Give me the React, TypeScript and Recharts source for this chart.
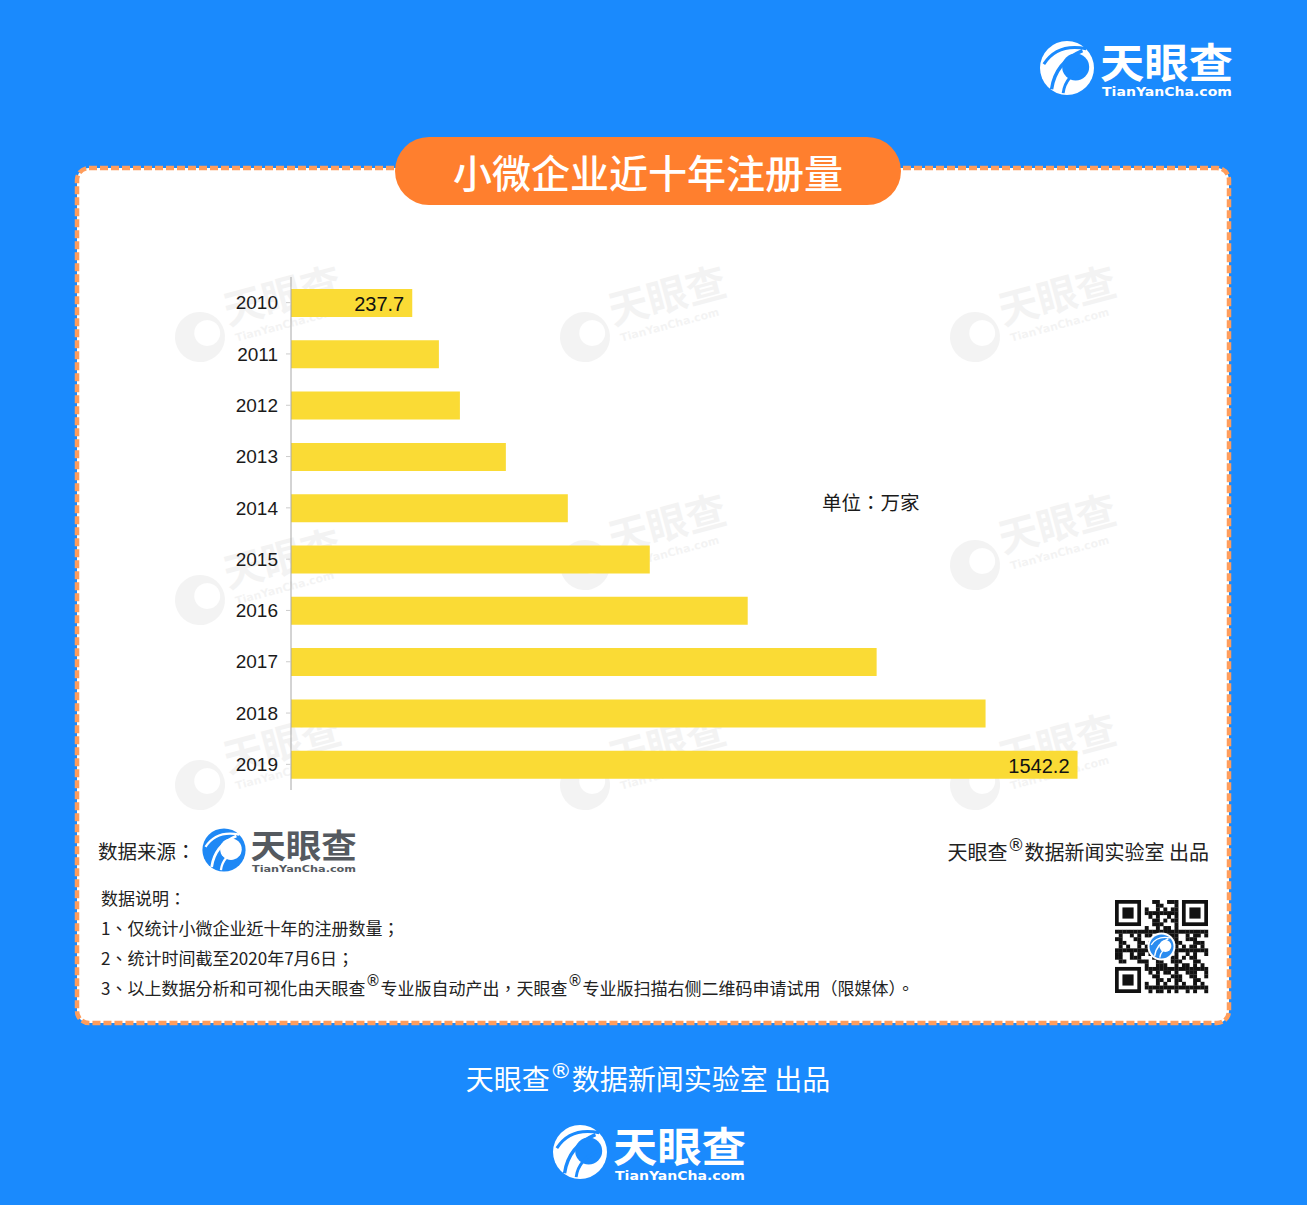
import React from 'react';
import { BarChart, Bar, XAxis, YAxis } from 'recharts';

const years = ['2010', '2011', '2012', '2013', '2014', '2015', '2016', '2017', '2018', '2019'];
const registrations = [237.7, 290.0, 331.2, 421.3, 542.8, 703.5, 895.5, 1148.3, 1361.9, 1542.2];
const labeledYears = ['2010', '2019'];
const xDomain = [0, 1600];

const title = '小微企业近十年注册量';
const unitText = '单位：万家';
const noteLines = [
  '数据说明：',
  '1、仅统计小微企业近十年的注册数量；',
  '2、统计时间截至2020年7月6日；',
];

const data = years.map((y, i) => ({ year: y, value: registrations[i] }));

const BG = '#1a8afd';
const FONT = '"Liberation Sans", "Noto Sans CJK SC", sans-serif';
const CJK = '"Noto Sans CJK SC", "Liberation Sans", sans-serif';
const CJKTC = '"Noto Sans CJK TC", "Noto Sans CJK SC", sans-serif';
const REG = '"DejaVu Sans", sans-serif';

function Icon({ cx, cy, r, color, bg }: { cx: number; cy: number; r: number; color: string; bg: string }) {
  const s = r / 28;
  return (
    <g transform={`translate(${cx},${cy}) scale(${s})`}>
      <circle cx={0} cy={0} r={28} fill={color} />
      <circle cx={9} cy={-1} r={14} fill={bg} />
      <path d="M -16 22 Q -12 -6 16 -18" stroke={bg} strokeWidth={3.5} fill="none" />
      <path d="M -4 26 Q -2 8 20 -2" stroke={bg} strokeWidth={3} fill="none" />
      <path d="M -24 -4 Q -10 -26 20 -20" stroke={bg} strokeWidth={3} fill="none" />
    </g>
  );
}

function Logo({ x, y, scale, color, textColor, iconColor, bg }: any) {
  return (
    <g transform={`translate(${x},${y}) scale(${scale})`}>
      <Icon cx={0} cy={0} r={27} color={iconColor} bg={bg} />
      <text x={33} y={10} fontSize={41} fontWeight={700} fill={textColor} fontFamily={CJK} textLength={133} lengthAdjust="spacingAndGlyphs">天眼查</text>
      <text x={35} y={27.5} fontSize={11.5} fontWeight={700} fill={color} fontFamily='"DejaVu Sans", sans-serif' textLength={130} lengthAdjust="spacingAndGlyphs">TianYanCha.com</text>
    </g>
  );
}

function Watermark({ x, y }: { x: number; y: number }) {
  return (
    <g transform={`translate(${x},${y}) rotate(-15)`} opacity={0.045}>
      <circle cx={0} cy={0} r={25} fill="#000" />
      <circle cx={8} cy={-2} r={13} fill="#fff" />
      <text x={30} y={-4} fontSize={40} fontWeight={700} fill="#000" fontFamily={CJK}>天眼查</text>
      <text x={34} y={14} fontSize={11} fontWeight={700} fill="#000" fontFamily='"DejaVu Sans", sans-serif'>TianYanCha.com</text>
    </g>
  );
}

const wmPositions = [
  [200, 337], [585, 337], [975, 337],
  [200, 600], [585, 565], [975, 565],
  [200, 785], [585, 785], [975, 785],
];

function QR({ x, y, size }: { x: number; y: number; size: number }) {
  const n = 25;
  const m = size / n;
  const cells: React.ReactNode[] = [];
  const inFinder = (i: number, j: number) =>
    (i < 8 && j < 8) || (i < 8 && j >= n - 8) || (i >= n - 8 && j < 8);
  for (let i = 0; i < n; i++) {
    for (let j = 0; j < n; j++) {
      if (inFinder(i, j)) continue;
      const on = ((i * 7 + j * 11 + i * j * 3) % 5) < 2 || ((i + j * 5) % 7 === 0);
      if (on) cells.push(<rect key={`${i}-${j}`} x={x + j * m} y={y + i * m} width={m + 0.2} height={m + 0.2} fill="#111" />);
    }
  }
  const finder = (fx: number, fy: number, k: string) => (
    <g key={k}>
      <rect x={fx} y={fy} width={7 * m} height={7 * m} fill="#111" />
      <rect x={fx + m} y={fy + m} width={5 * m} height={5 * m} fill="#fff" />
      <rect x={fx + 2 * m} y={fy + 2 * m} width={3 * m} height={3 * m} fill="#111" />
    </g>
  );
  return (
    <g>
      {cells}
      {finder(x, y, 'a')}
      {finder(x + (n - 7) * m, y, 'b')}
      {finder(x, y + (n - 7) * m, 'c')}
      <circle cx={x + size / 2} cy={y + size / 2} r={14} fill="#fff" />
      <Icon cx={x + size / 2} cy={y + size / 2} r={12} color="#2a8cf0" bg="#fff" />
    </g>
  );
}

const renderLabel = (p: any) => {
  const { x, y, width, height, index } = p;
  const d = data[index];
  if (!d || !labeledYears.includes(d.year)) return null;
  return (
    <text x={x + width - 8} y={y + height / 2 + 1} textAnchor="end" dominantBaseline="central" fontSize={20} fill="#111" fontFamily={FONT}>
      {d.value}
    </text>
  );
};

export default function App() {
  return (
    <div style={{ position: 'absolute', left: 0, top: 0, width: 1307, height: 1205, background: BG, overflow: 'hidden' }}>
      <svg width={1307} height={1205} style={{ position: 'absolute', left: 0, top: 0 }}>
        <rect x={77} y={168} width={1152} height={855} rx={12} ry={12} fill="#fff" stroke="#ff9d5c" strokeWidth={4.5} strokeDasharray="8 3" />
        {wmPositions.map(([wx, wy], i) => <Watermark key={i} x={wx} y={wy} />)}
        <rect x={395} y={137} width={506} height={68} rx={34} ry={34} fill="#ff7f2e" />
        <text x={648} y={171} textAnchor="middle" dominantBaseline="central" fontSize={39} fontWeight={500} fill="#fff" fontFamily={CJK}>{title}</text>
        <Logo x={1067} y={68} scale={1} color="#fff" textColor="#fff" iconColor="#fff" bg={BG} />
        <text x={822} y={501} dominantBaseline="central" fontSize={19.5} fill="#1a1a1a" fontFamily={CJKTC}>{unitText}</text>
        <text x={98} y={850} dominantBaseline="central" fontSize={19.5} fill="#222" fontFamily={CJKTC}>数据来源：</text>
        <Logo x={224} y={850} scale={0.8} color="#555a60" textColor="#555a60" iconColor="#1e88f5" bg="#fff" />
        <text x={1209} y={851} textAnchor="end" dominantBaseline="central" fontSize={20} fill="#222" fontFamily={CJK}>
          天眼查<tspan fontSize={17} fontFamily={REG} dy={-6}>®</tspan><tspan dy={6}>数据新闻实验室 出品</tspan>
        </text>
        {noteLines.map((t, i) => (
          <text key={i} x={101} y={897 + i * 30} dominantBaseline="central" fontSize={17} fill="#222" fontFamily={CJKTC}>{t}</text>
        ))}
        <text x={101} y={987} dominantBaseline="central" fontSize={17} fill="#222" fontFamily={CJKTC}>
          3、以上数据分析和可视化由天眼查<tspan fontSize={15} fontFamily={REG} dy={-6}>®</tspan><tspan dy={6}>专业版自动产出，天眼查</tspan><tspan fontSize={15} fontFamily={REG} dy={-6}>®</tspan><tspan dy={6}>专业版扫描右侧二维码申请试用（限媒体）。</tspan>
        </text>
        <QR x={1115} y={900} size={93} />
        <text x={648} y={1078} textAnchor="middle" dominantBaseline="central" fontSize={28} fill="#fff" fontFamily={CJK}>
          天眼查<tspan fontSize={22} fontFamily={REG} dy={-8}>®</tspan><tspan dy={8}>数据新闻实验室 出品</tspan>
        </text>
        <Logo x={580} y={1152} scale={1} color="#fff" textColor="#fff" iconColor="#fff" bg={BG} />
      </svg>
      <div style={{ position: 'absolute', left: 211, top: 267 }}>
        <BarChart layout="vertical" width={896} height={533} data={data} margin={{ top: 10, right: 0, bottom: 10, left: 0 }} barSize={28}>
          <XAxis type="number" domain={xDomain} hide />
          <YAxis
            type="category"
            dataKey="year"
            width={80}
            tickSize={5}
            tickMargin={8}
            axisLine={{ stroke: '#a8a8a8' }}
            tickLine={{ stroke: '#cccccc' }}
            tick={{ fontSize: 19, fill: '#1a1a1a', fontFamily: FONT }}
          />
          <Bar dataKey="value" fill="#fadb35" isAnimationActive={false} label={renderLabel} />
        </BarChart>
      </div>
    </div>
  );
}
